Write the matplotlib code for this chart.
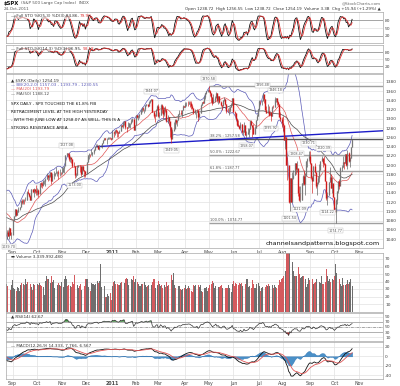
import numpy as np
import pandas as pd
import matplotlib
matplotlib.use("Agg")
import matplotlib.pyplot as plt

# ---------------- data: S&P 500 daily closes (Jun 2010 .. 24 Oct 2011) ----------------
c_1006 = [1070.71,1098.38,1102.83,1064.88,1050.47,1062.00,1055.69,1086.84,1091.60,1089.63,1115.23,1114.61,1116.04,1117.51,1113.20,1095.31,1092.04,1073.69,1076.76,1074.57,1041.24,1030.71]
c_1007 = [1027.37,1022.58,1028.06,1060.27,1070.25,1077.96,1078.75,1095.34,1095.17,1096.48,1064.88,1071.25,1083.48,1069.59,1093.67,1102.66,1115.01,1113.84,1106.13,1101.53,1101.60]
c_1008 = [1125.86,1120.46,1127.24,1125.81,1121.64,1127.79,1121.06,1089.47,1083.61,1079.25,1079.38,1092.54,1094.16,1075.63,1071.69,1067.36,1051.87,1055.33,1047.22,1064.59,1048.92,1049.33]
c_1009 = [1080.29,1090.10,1104.51,1091.84,1098.87,1104.18,1109.55,1121.90,1121.10,1125.07,1124.66,1125.59,1142.71,1139.78,1134.28,1124.83,1148.67,1142.16,1147.70,1144.73,1141.20]
c_1010 = [1146.24,1137.03,1160.75,1159.97,1158.06,1165.15,1165.32,1169.77,1178.10,1173.81,1176.19,1184.71,1165.90,1178.17,1180.26,1183.08,1185.62,1185.64,1182.45,1183.78,1183.26]
c_1011 = [1184.38,1193.57,1197.96,1221.06,1225.85,1223.25,1213.40,1218.71,1213.54,1199.21,1197.75,1178.34,1178.59,1196.69,1199.73,1197.84,1180.73,1198.35,1189.40,1187.76,1180.55]
c_1012 = [1206.07,1221.53,1224.71,1223.12,1223.75,1228.28,1233.00,1240.40,1240.46,1241.59,1235.23,1242.87,1243.91,1247.08,1254.60,1258.84,1256.77,1257.54,1258.51,1259.78,1257.88,1257.64]
c_1101 = [1271.87,1270.20,1276.56,1273.85,1271.50,1269.75,1274.48,1285.96,1283.76,1293.24,1295.02,1281.92,1280.26,1283.35,1290.84,1291.18,1296.63,1299.54,1276.34,1286.12]
c_1102 = [1307.59,1304.03,1307.10,1310.87,1319.05,1324.57,1320.88,1321.87,1329.15,1332.32,1328.01,1336.32,1340.43,1343.01,1315.44,1307.40,1306.10,1319.88,1327.22]
c_1103 = [1306.33,1308.44,1330.97,1321.15,1310.13,1321.82,1320.02,1295.11,1304.28,1296.39,1281.87,1256.88,1273.72,1279.21,1298.38,1293.77,1297.54,1309.66,1313.80,1310.19,1319.44,1328.26,1325.83]
c_1104 = [1332.41,1332.87,1332.63,1335.54,1333.51,1328.17,1324.46,1314.16,1314.41,1314.52,1319.68,1305.14,1312.62,1330.36,1337.38,1335.25,1347.24,1355.66,1360.48,1363.61]
c_1105 = [1361.22,1356.62,1347.32,1335.10,1340.20,1346.29,1357.16,1342.08,1348.65,1337.77,1329.47,1328.98,1340.68,1343.60,1333.27,1317.37,1316.28,1320.47,1325.69,1331.10,1345.20]
c_1106 = [1314.55,1312.94,1300.16,1286.17,1284.94,1279.56,1289.00,1270.98,1271.83,1287.87,1265.42,1267.64,1271.50,1278.36,1295.52,1287.14,1283.50,1268.45,1280.10,1296.67,1307.41,1320.64]
c_1107 = [1339.67,1337.88,1339.22,1353.22,1343.80,1319.49,1313.64,1317.72,1308.87,1316.14,1305.44,1326.73,1325.84,1343.80,1345.02,1337.43,1331.94,1304.89,1300.67,1292.28]
c_1108 = [1286.94,1254.05,1260.34,1200.07,1199.38,1119.46,1172.53,1120.76,1172.64,1178.81,1204.49,1192.76,1193.89,1140.65,1123.53,1123.82,1162.35,1177.60,1159.27,1176.80,1210.08,1212.92,1218.89]
c_1109 = [1204.42,1173.97,1165.24,1198.62,1185.90,1154.23,1162.27,1172.87,1188.68,1209.11,1216.01,1204.09,1202.09,1166.76,1129.56,1136.43,1162.95,1175.38,1151.06,1160.40,1131.42]
c_1110 = [1099.23,1123.95,1144.03,1164.97,1155.46,1194.89,1195.54,1207.25,1203.66,1224.58,1200.86,1225.38,1209.88,1215.39,1238.25,1254.19]

# daily highs / lows (Jul 2010 .. Oct 2011)
h_1007 = [1033,1032,1042,1060,1071,1078,1080,1099,1099,1098,1096,1074,1083,1094,1097,1103,1115,1120,1114,1115,1107]
l_1007 = [1011,1016,1010,1028,1058,1068,1071,1080,1088,1081,1063,1061,1057,1067,1072,1087,1101,1109,1104,1096,1088]
h_1008 = [1127,1125,1128,1126,1126,1130,1127,1111,1092,1086,1082,1101,1100,1093,1075,1081,1063,1059,1059,1066,1065,1055]
l_1008 = [1102,1116,1119,1117,1108,1122,1111,1089,1076,1079,1069,1080,1086,1070,1063,1067,1046,1040,1047,1039.7,1049,1041]
h_1009 = [1081,1090,1105,1103,1103,1110,1110,1124,1127,1126,1126,1131,1144,1148,1140,1136,1149,1149,1150,1148,1157]
l_1009 = [1050,1080,1091,1091,1092,1098,1102,1110,1115,1115,1117,1122,1125,1137,1131,1125,1125,1142,1131,1140,1136]
h_1010 = [1150,1148,1162,1163,1164,1167,1168,1173,1184,1178,1181,1186,1178,1182,1187,1184,1196,1187,1189,1191,1185]
l_1010 = [1135,1132,1140,1152,1151,1155,1160,1155,1171,1166,1168,1174,1160,1166,1171,1176,1184,1177,1171,1177,1179]
h_1011 = [1196,1195,1199,1221,1227,1224,1226,1219,1216,1214,1207,1198,1183,1201,1200,1198,1198,1199,1199,1190,1188]
l_1011 = [1181,1185,1184,1202,1220,1218,1209,1207,1205,1195,1197,1173,1175,1179,1195,1185,1176,1181,1187,1174,1174]
h_1012 = [1207,1221,1226,1225,1236,1229,1234,1240,1246,1246,1244,1243,1244,1248,1255,1259,1259,1258,1260,1262,1261,1258]
l_1012 = [1187,1206,1214,1218,1223,1219,1225,1232,1240,1239,1234,1233,1239,1238,1249,1254,1255,1246,1256,1257,1256,1254]
h_1101 = [1276,1275,1277,1278,1277,1272,1277,1286,1287,1293,1296,1295,1282,1294,1291,1292,1299,1302,1300,1287]
l_1101 = [1257,1262,1265,1270,1262,1262,1269,1275,1282,1281,1288,1278,1271,1282,1282,1281,1290,1294,1276,1276]
h_1102 = [1308,1308,1308,1311,1322,1325,1326,1322,1330,1333,1331,1338,1341,1344,1338,1318,1311,1321,1330]
l_1102 = [1286,1302,1297,1302,1311,1316,1318,1312,1318,1328,1325,1328,1334,1338,1315,1303,1294,1306,1320]
h_1103 = [1333,1315,1332,1332,1327,1325,1327,1321,1308,1304,1282,1282,1278,1293,1299,1299,1298,1311,1319,1320,1320,1331,1329]
l_1103 = [1304,1303,1309,1312,1303,1306,1314,1294,1292,1288,1261,1249,1258,1276,1280,1289,1284,1297,1309,1310,1305,1320,1325]
h_1104 = [1337,1336,1339,1339,1338,1339,1333,1324,1321,1315,1321,1320,1313,1332,1337,1338,1350,1357,1361,1364]
l_1104 = [1326,1328,1329,1332,1325,1322,1322,1310,1311,1303,1314,1295,1305,1313,1330,1334,1335,1344,1353,1358]
h_1105 = [1370.58,1362,1356,1348,1355,1350,1359,1357,1349,1350,1339,1330,1341,1347,1343,1333,1324,1326,1329,1334,1346]
l_1105 = [1358,1349,1337,1330,1335,1336,1348,1336,1332,1335,1328,1319,1330,1338,1330,1312,1315,1308,1316,1325,1331]
h_1106 = [1345,1318,1312,1302,1297,1288,1294,1289,1277,1293,1287,1274,1280,1280,1298,1298,1287,1289,1284,1297,1310,1322]
l_1106 = [1314,1306,1297,1285,1284,1278,1280,1270,1266,1272,1265,1258.07,1267,1262,1278,1287,1262,1267,1267,1281,1297,1307]
h_1107 = [1342,1340,1341,1356.48,1352,1343,1327,1332,1327,1318,1316,1328,1330,1347,1346,1345,1338,1332,1316,1304]
l_1107 = [1320,1332,1331,1340,1334,1319,1313,1314,1306,1309,1296,1306,1323,1325,1336,1330,1329,1304,1295,1283]
h_1108 = [1307,1288,1261,1260,1218,1199,1172,1172,1186,1190,1205,1205,1208.47,1191,1154,1154,1162,1178,1190,1182,1210,1215,1230.71]
l_1108 = [1275,1254,1234,1200,1168,1119,1101.54,1121,1121,1170,1178,1181,1185,1133,1122,1121,1124,1156,1156,1135,1178,1195,1210]
h_1109 = [1230,1204,1174,1199,1204,1186,1163,1177,1202,1209,1220.06,1211,1220.39,1205,1166,1141,1163,1195,1180,1175,1160]
l_1109 = [1203,1170,1140,1167,1184,1150,1136,1160,1163,1189,1208,1195,1201,1166,1124,1114.22,1135,1163,1151,1140,1131]
h_1110 = [1131,1126,1145,1165,1171,1195,1200,1220,1207,1224,1224,1233,1229,1217,1240,1256.55]
l_1110 = [1098,1074.77,1116,1140,1149,1157,1188,1196,1191,1204,1199,1191,1207,1197,1216,1238.72]

# volume, billions of shares (Aug 2010 .. Oct 2011)
v_1008 = [3.6,3.7,3.5,3.4,3.8,3.3,3.9,4.4,3.9,3.4,3.2,3.4,3.4,3.8,3.5,3.0,3.8,3.7,3.4,3.2,2.9,3.6]
v_1009 = [4.2,3.2,3.0,2.8,3.3,3.1,2.7,3.5,3.8,3.7,3.5,4.3,3.7,4.0,3.7,3.7,3.3,2.9,3.7,3.6,4.2]
v_1010 = [3.7,3.5,3.8,3.5,3.4,3.3,2.2,4.1,4.7,4.3,4.3,3.8,4.8,3.9,4.2,3.2,3.3,3.5,3.8,3.5,3.4]
v_1011 = [3.9,3.3,4.3,4.8,4.3,3.4,3.6,3.4,3.3,3.9,3.7,4.9,3.7,3.6,3.2,3.4,3.7,2.9,1.5,3.4,4.4]
v_1012 = [4.3,4.3,3.3,2.8,3.8,3.7,3.7,3.6,3.7,4.1,3.8,4.1,6.4,3.3,3.3,3.4,2.0,1.9,2.3,2.1,2.5,1.5]
v_1101 = [3.4,4.0,4.1,3.7,3.7,3.5,3.5,3.8,3.9,4.3,3.8,4.3,4.5,4.3,3.5,3.9,4.3,4.2,4.8,4.0]
v_1102 = [4.4,3.9,3.7,3.4,3.4,3.7,3.7,3.9,3.5,3.3,3.4,3.5,3.5,3.6,3.9,4.3,4.3,3.2,3.6]
v_1103 = [4.1,3.7,3.4,3.6,3.2,3.5,3.3,4.0,3.4,3.5,4.3,4.9,4.2,5.2,3.6,3.1,3.2,3.4,3.4,3.0,2.9,3.0,3.1]
v_1104 = [3.5,3.0,3.1,3.4,3.1,2.8,2.6,3.6,3.4,3.5,3.6,3.6,3.3,3.6,2.7,2.6,3.1,3.2,3.3,2.7]
v_1105 = [3.2,3.6,3.7,4.1,3.8,3.1,3.4,3.3,3.3,3.3,3.4,3.5,3.2,3.1,3.1,3.1,3.2,3.5,3.2,2.6,3.7]
v_1106 = [4.1,3.4,3.8,3.7,3.5,3.8,3.7,3.8,3.4,3.3,3.7,4.3,4.4,3.3,3.4,3.1,4.2,3.7,3.1,3.2,3.7,3.8]
v_1107 = [3.4,2.8,3.1,3.3,3.1,3.3,3.6,3.4,3.7,3.4,3.6,3.6,3.2,3.6,3.3,3.2,3.5,4.2,3.9,4.3]
v_1108 = [4.5,4.8,5.4,8.3,9.5,9.0,9.4,7.9,6.6,5.4,4.7,4.8,4.7,6.0,5.0,4.5,4.6,4.8,4.8,4.3,3.3,3.7,4.5]
v_1109 = [4.2,3.5,4.3,3.7,3.8,4.0,4.4,4.3,4.0,3.8,4.8,3.7,3.7,4.0,5.7,4.7,4.1,4.4,3.9,4.4,4.2]
v_1110 = [4.8,6.3,5.1,4.3,4.3,3.7,3.4,4.5,3.6,3.5,3.7,4.2,3.7,4.0,4.3,3.34]

holidays = ["2010-07-05", "2010-09-06", "2010-11-25", "2010-12-24", "2011-01-17",
            "2011-02-21", "2011-04-22", "2011-05-30", "2011-07-04", "2011-09-05"]
month_labels = ["Sep", "Oct", "Nov", "Dec", "2011", "Feb", "Mar", "Apr", "May",
                "Jun", "Jul", "Aug", "Sep", "Oct", "Nov"]

# price annotations (date, value, side)
price_notes = [("2010-08-27", 1039.70, "low"), ("2010-11-05", 1227.08, "high"),
               ("2010-11-16", 1173.00, "low"), ("2011-02-18", 1344.07, "high"),
               ("2011-03-16", 1249.05, "low"), ("2011-05-02", 1370.58, "high"),
               ("2011-06-16", 1258.07, "low"), ("2011-07-07", 1356.48, "high"),
               ("2011-07-18", 1295.92, "low"), ("2011-07-22", 1346.18, "high"),
               ("2011-08-09", 1101.54, "low"), ("2011-08-17", 1208.47, "high"),
               ("2011-08-31", 1230.71, "high"), ("2011-09-20", 1220.39, "high"),
               ("2011-08-19", 1121.09, "low"), ("2011-09-23", 1114.22, "low"),
               ("2011-10-04", 1074.77, "low")]
fib_names = ["0.0%", "38.2%", "50.0%", "61.8%", "100.0%"]
fib_ratios = [0.0, 0.382, 0.5, 0.618, 1.0]

# ---------------- assemble ----------------
close = np.array(c_1006 + c_1007 + c_1008 + c_1009 + c_1010 + c_1011 + c_1012 + c_1101 + c_1102
                 + c_1103 + c_1104 + c_1105 + c_1106 + c_1107 + c_1108 + c_1109 + c_1110, float)
n_pre_hl = len(c_1006)
high = np.array([np.nan] * n_pre_hl + h_1007 + h_1008 + h_1009 + h_1010 + h_1011 + h_1012 + h_1101 + h_1102
                + h_1103 + h_1104 + h_1105 + h_1106 + h_1107 + h_1108 + h_1109 + h_1110, float)
low = np.array([np.nan] * n_pre_hl + l_1007 + l_1008 + l_1009 + l_1010 + l_1011 + l_1012 + l_1101 + l_1102
               + l_1103 + l_1104 + l_1105 + l_1106 + l_1107 + l_1108 + l_1109 + l_1110, float)
n_pre_v = len(c_1006) + len(c_1007)
vol = np.array([np.nan] * n_pre_v + v_1008 + v_1009 + v_1010 + v_1011 + v_1012 + v_1101 + v_1102
               + v_1103 + v_1104 + v_1105 + v_1106 + v_1107 + v_1108 + v_1109 + v_1110, float)

dates = pd.bdate_range("2010-06-01", "2011-10-24")
dates = dates[~dates.isin(pd.to_datetime(holidays))]
assert len(dates) == len(close) == len(high) == len(low) == len(vol), (len(dates), len(close))
idx = np.arange(len(close))
opn = np.r_[close[0], close[:-1]]
up = close >= opn

def didx(s):
    return int(np.where(dates == pd.Timestamp(s))[0][0])

cs = pd.Series(close)
ma20 = cs.rolling(20).mean().values
sd20 = cs.rolling(20).std(ddof=0).values
bbu, bbl = ma20 + 2 * sd20, ma20 - 2 * sd20
ma50 = cs.rolling(50).mean().values
ema12 = cs.ewm(span=12, adjust=False).mean()
ema26 = cs.ewm(span=26, adjust=False).mean()
macd = (ema12 - ema26).values
sig = pd.Series(macd).ewm(span=9, adjust=False).mean().values
hist = macd - sig
dlt = cs.diff()
ag = dlt.clip(lower=0).ewm(alpha=1 / 14, adjust=False).mean()
al = (-dlt.clip(upper=0)).ewm(alpha=1 / 14, adjust=False).mean()
rsi = (100 - 100 / (1 + ag / al)).values

def stoch(n):
    hh = pd.Series(high).rolling(n).max()
    ll = pd.Series(low).rolling(n).min()
    fk = 100 * (cs - ll) / (hh - ll)
    k = fk.rolling(3).mean()
    d = k.rolling(3).mean()
    return k.values, d.values

k5, d5 = stoch(5)
k14, d14 = stoch(14)

# ---------------- figure ----------------
W, Hh = 400, 386
plt.rcParams["font.family"] = ["DejaVu Sans"]
fig = plt.figure(figsize=(4, 3.86), dpi=100)
fig.patch.set_facecolor("white")
rend = fig.canvas.get_renderer()

i0 = didx("2010-08-27")
dx = 1.175
X_L, X_R = 6, 383
xlim = (i0 - (9 - X_L) / dx, i0 + (X_R - 9) / dx)
vis = idx >= xlim[0] - 1

month_first = []
for m in pd.period_range("2010-09", "2011-11", freq="M"):
    sel = np.where((dates.year == m.year) & (dates.month == m.month))[0]
    month_first.append(sel[0] if len(sel) else len(dates) - 1 + 6)  # Nov 1 2011 = 6 sessions after Oct 24

GRID = "#e2e2e2"
SP = "#a8a8a8"
TXT = "#333333"

def mk(l, t, r, b):
    ax = fig.add_axes([l / W, 1 - b / Hh, (r - l) / W, (b - t) / Hh])
    ax.set_xlim(*xlim)
    for s in ax.spines.values():
        s.set_color(SP)
        s.set_linewidth(0.5)
    ax.yaxis.tick_right()
    ax.tick_params(axis="y", length=0, labelsize=3.2, colors="#444444", pad=1.5)
    ax.tick_params(axis="x", length=0, labelsize=3.4, colors="#444444", pad=1.2)
    ax.set_xticks(month_first)
    ax.set_xticklabels([])
    ax.grid(True, color=GRID, lw=0.5)
    ax.set_axisbelow(True)
    return ax

def ptxt(x, y, s, **kw):
    kw.setdefault("fontsize", 3.3)
    kw.setdefault("color", TXT)
    kw.setdefault("va", "center")
    return fig.text(x / W, 1 - y / Hh, s, **kw)

def after(ax, t, gap_px=1.0):
    bb = t.get_window_extent(renderer=rend)
    return ax.transAxes.inverted().transform((bb.x1 + gap_px, bb.y0))[0]

# header
t_h = ptxt(4, 3, "$SPX", fontsize=3.8, fontweight="bold", color="#111111")
bb = t_h.get_window_extent(renderer=rend)
ptxt(bb.x1 + 2, 3.2, "(S&P 500 Large Cap Index)  INDX", fontsize=3.0, color="#555555")
ptxt(4, 8.5, "24-Oct-2011", fontsize=3.0, color="#555555")
ptxt(381, 3.2, "@StockCharts.com", fontsize=3.0, color="#666666", ha="right")
ptxt(381, 9, "Open 1238.72  High 1256.55  Low 1238.72  Close 1254.19  Volume 3.3B  Chg +15.94 (+1.29%) \u25b2",
     fontsize=2.9, color="#333333", ha="right")

# ---- stochastic panels ----
def stoch_panel(t, b, k, d, label, v1, v2):
    ax = mk(X_L, t, X_R, b)
    ax.set_ylim(-8, 112)
    ax.set_yticks([20, 50, 80])
    ax.axhline(80, color="#9a9a9a", lw=0.6)
    ax.axhline(20, color="#9a9a9a", lw=0.6)
    ax.plot(idx[vis], k[vis], color="#111111", lw=0.6)
    ax.plot(idx[vis], d[vis], color="#e03030", lw=0.6)
    t1 = ax.text(0.012, 0.86, "\u2014 " + label + " " + v1 + ",", transform=ax.transAxes,
                 fontsize=3.0, color=TXT, va="center",
                 bbox=dict(boxstyle="square,pad=0.1", fc="white", ec="none", alpha=0.6))
    ax.text(after(ax, t1, 1.5), 0.86, v2, transform=ax.transAxes, fontsize=3.0, color="#e03030", va="center")
    return ax

stoch_panel(12, 43, k5, d5, "Full STO %K(5,3) %D(3)", "84.86", "79.90")
stoch_panel(45, 73, k14, d14, "Full STO %K(14,3) %D(3)", "96.95", "93.18")

# ---- main price panel ----
MT, MB = 74, 248
axm = mk(X_L, MT, X_R, MB)
pp = 0.462
axm.set_ylim(1380 - (MB - 82) / pp, 1380 + (82 - MT) / pp)
axm.set_yticks(np.arange(1040, 1381, 20))
axm.set_xticklabels(month_labels)
for lab in axm.get_xticklabels():
    if lab.get_text() == "2011":
        lab.set_fontweight("bold")

vi = idx[vis]
axm.plot(vi, bbu[vis], color="#5a5ab8", lw=0.5)
axm.plot(vi, bbl[vis], color="#5a5ab8", lw=0.5)
axm.plot(vi, ma20[vis], color="#e05555", lw=0.5)
axm.plot(vi, ma50[vis], color="#4a4a4a", lw=0.5)

# fib lines
ih = didx("2011-05-02")
fhi, flo = 1370.58, 1074.77
for nm, r in zip(fib_names, fib_ratios):
    lv = fhi - r * (fhi - flo)
    col = "#555555" if nm == "38.2%" else "#a0a0a0"
    axm.plot([ih, xlim[1]], [lv, lv], color=col, lw=1.0, solid_capstyle="butt")
    if nm != "0.0%":
        axm.text(ih + 1, lv + 1.5, f"{nm} : {lv:.2f}", fontsize=2.6, color="#555555", va="bottom")

# trend line through Mar-16 and Jun-16 lows
ia, ib = didx("2011-03-16"), didx("2011-06-16")
slope = (1258.07 - 1249.05) / (ib - ia)
ist = didx("2010-12-14")
axm.plot([ist, xlim[1]], [1249.05 + slope * (ist - ia), 1249.05 + slope * (xlim[1] - ia)],
         color="#1c1cc8", lw=1.0)

# candles
upm = vis & up
dnm = vis & ~up
axm.vlines(idx[upm], low[upm], high[upm], color="#555555", lw=0.45)
axm.vlines(idx[upm], opn[upm], close[upm], color="#777777", lw=0.9)
axm.vlines(idx[dnm], low[dnm], high[dnm], color="#d01818", lw=0.45)
axm.vlines(idx[dnm], close[dnm], opn[dnm], color="#d01818", lw=1.0)

for ds, val, kind in price_notes:
    j = didx(ds)
    yoff = 4 if kind == "high" else -4
    axm.annotate(f"{val:.2f}", (j, val), xytext=(0, yoff), textcoords="offset points",
                 ha="center", va="bottom" if kind == "high" else "top", fontsize=2.4, color="#555555",
                 bbox=dict(boxstyle="square,pad=0.15", fc="white", ec="#bbbbbb", lw=0.3))

axm.text(0.012, 0.962, "\u25b2 $SPX (Daily) 1254.19", transform=axm.transAxes, fontsize=3.0, color=TXT, va="center")
axm.text(0.012, 0.937, "\u2014 BB(20,2.0) 1157.03 - 1193.79 - 1230.55", transform=axm.transAxes,
         fontsize=3.0, color="#5a5ab8", va="center")
axm.text(0.012, 0.912, "\u2014 MA(20) 1193.79", transform=axm.transAxes, fontsize=3.0, color="#e05555", va="center")
axm.text(0.012, 0.887, "\u2014 MA(50) 1188.12", transform=axm.transAxes, fontsize=3.0, color="#4a4a4a", va="center")

note = ["SPX DAILY - SPX TOUCHED THE 61.8% FIB",
        "RETRACEMENT LEVEL AT THE HIGH YESTERDAY",
        "- WITH THE JUNE LOW AT 1258.07 AS WELL, THIS IS A",
        "STRONG RESISTANCE AREA"]
for k_, s in enumerate(note):
    ptxt(11, 104.3 + 8 * k_, s, fontsize=3.0, color="#111111")

ptxt(380, 243, "channelsandpatterns.blogspot.com", fontsize=4.6, color="#111111", ha="right")

# ---- volume ----
axv = mk(X_L, 253, X_R, 312)
axv.set_ylim((311.5 - 312) / 0.75, (311.5 - 253) / 0.75)
axv.set_yticks([10, 20, 30, 40, 50, 60, 70])
axv.bar(idx[upm], vol[upm] * 10, width=0.8, color="#6e6e6e", lw=0)
axv.bar(idx[dnm], vol[dnm] * 10, width=0.8, color="#d45a5e", lw=0)
axv.text(0.012, 0.93, "\u25ac Volume 3,339,992,480", transform=axv.transAxes, fontsize=3.0, color=TXT, va="center")

# ---- RSI ----
axr = mk(X_L, 313, X_R, 341)
axr.set_ylim(-5, 104)
axr.set_yticks([10, 30, 50, 70, 90])
axr.axhline(70, color="#9a9a9a", lw=0.5)
axr.axhline(30, color="#9a9a9a", lw=0.5)
axr.axhline(50, color="#8a8a8a", lw=0.5, ls=(0, (4, 1.5, 1, 1.5)))
axr.plot(vi, rsi[vis], color="#333333", lw=0.5)
axr.fill_between(vi, 70, rsi[vis], where=rsi[vis] > 70, color="#3c8c3c", lw=0, interpolate=True)
axr.fill_between(vi, 30, rsi[vis], where=rsi[vis] < 30, color="#c02020", lw=0, interpolate=True)
axr.text(0.012, 0.86, "\u25b2 RSI(14) 62.67", transform=axr.transAxes, fontsize=3.0, color=TXT, va="center")

# ---- MACD ----
axd = mk(X_L, 342, X_R, 379)
axd.set_ylim(-40 - 4 / 0.467, 20 + 5 / 0.467)
axd.set_yticks([-40, -20, 0, 20])
axd.set_yticklabels(["-40", "-20", "0", "20"])
axd.fill_between(vi, 0, hist[vis], color="#4a90c8", lw=0.3, ec="#2a70b0")
axd.plot(vi, macd[vis], color="#111111", lw=0.6)
axd.plot(vi, sig[vis], color="#e05555", lw=0.6)
axd.set_xticklabels(month_labels)
for lab in axd.get_xticklabels():
    if lab.get_text() == "2011":
        lab.set_fontweight("bold")
axd.text(0.012, 0.88, "\u2014 MACD(12,26,9) 14.333, 7.766, 6.567", transform=axd.transAxes,
         fontsize=3.0, color=TXT, va="center")

fig.savefig("out.png", dpi=100, facecolor="white")
